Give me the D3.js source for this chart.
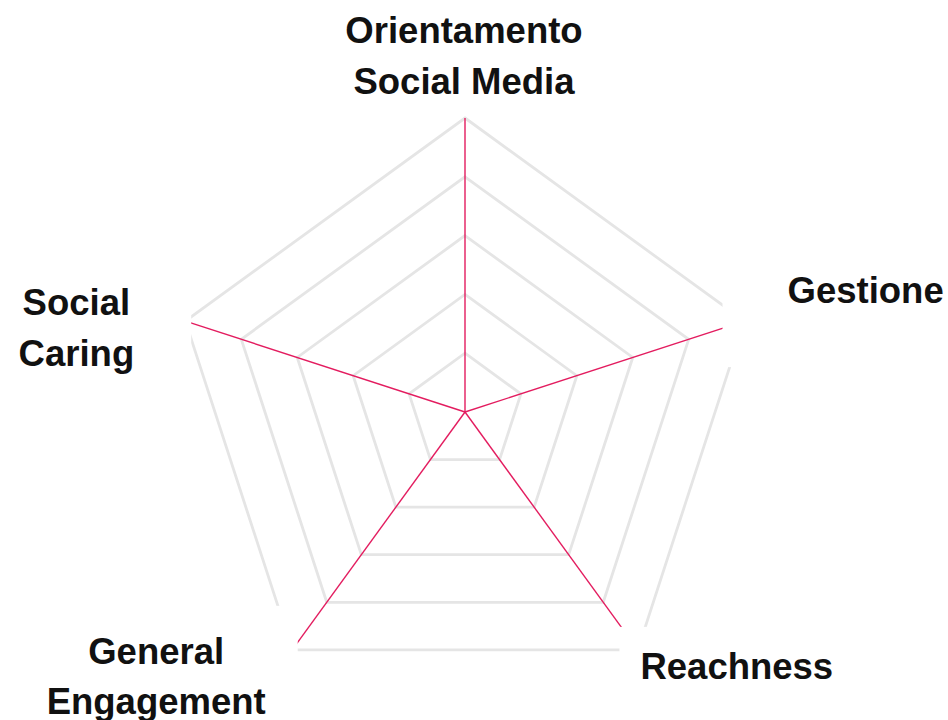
<!DOCTYPE html>
<html>
<head>
<meta charset="utf-8">
<script src="https://cdn.jsdelivr.net/npm/d3@7"></script>
<style>
  html, body { margin: 0; padding: 0; background: #fff; }
  svg { display: block; }
</style>
</head>
<body>
<svg width="948" height="720"></svg>
<script>
// DATA
const categories = ["Orientamento Social Media", "Gestione", "Reachness", "General Engagement", "Social Caring"];
const levels = [1, 2, 3, 4, 5];
const maxValue = 5;

const svg = d3.select("svg");
const cx = 465;
const cy = 412;
const radius = 294;

// label placement relative to the end of each axis, and padding of the white box behind it
const labelOffsets = [[-1, -75], [121, -18], [99, 29], [-136, 14], [-109, -6]];
const boxPads = [ // top, right, bottom, left
  [10, 10, 10, 10],
  [40, 40, 56, 65],
  [19, 40, 40, 21],
  [25, 32, 10, 40],
  [20, 57, 20, 20]
];

const r = d3.scaleLinear().domain([0, maxValue]).range([0, radius]);
const angle = d3.scaleLinear().domain([0, categories.length]).range([0, 2 * Math.PI]);

function point(i, v) {
  const a = angle(i);
  return [cx + r(v) * Math.sin(a), cy - r(v) * Math.cos(a)];
}

// GRID
svg.append("g")
  .selectAll("path")
  .data(levels)
  .join("path")
  .attr("d", lv => d3.line()(categories.map((c, i) => point(i, lv))) + "Z")
  .attr("fill", "none")
  .attr("stroke", "#e5e5e5")
  .attr("stroke-width", 2.8);

// AXES
svg.append("g")
  .selectAll("line")
  .data(categories)
  .join("line")
  .attr("x1", cx)
  .attr("y1", cy)
  .attr("x2", (d, i) => point(i, maxValue)[0])
  .attr("y2", (d, i) => point(i, maxValue)[1])
  .attr("stroke", "#e31c5f")
  .attr("stroke-width", 1.4);

// LABELS
const labels = svg.append("g")
  .selectAll("g")
  .data(categories)
  .join("g");

const texts = labels.append("text")
  .attr("text-anchor", "middle")
  .attr("font-family", "'Liberation Sans', Arial, sans-serif")
  .attr("font-weight", "bold")
  .attr("font-size", "36.5px")
  .attr("fill", "#111");

texts.each(function(d, i) {
  const t = d3.select(this);
  const [ax, ay] = point(i, maxValue);
  const x = ax + labelOffsets[i][0];
  const y = ay + labelOffsets[i][1];
  // wrap words into lines no wider than 228px
  const words = d.split(" ");
  let lines = [];
  let cur = [];
  const probe = t.append("tspan");
  words.forEach(w => {
    const test = cur.concat(w).join(" ");
    probe.text(test);
    if (cur.length && probe.node().getComputedTextLength() > 228) {
      lines.push(cur.join(" "));
      cur = [w];
    } else {
      cur.push(w);
    }
  });
  lines.push(cur.join(" "));
  probe.remove();
  lines.forEach((ln, k) => {
    t.append("tspan").attr("x", x).attr("y", y + k * 50.5).text(ln);
  });
});

// white box behind each label (covers the ends of the grid)
labels.insert("rect", "text")
  .each(function(d, i) {
    const bb = this.parentNode.querySelector("text").getBBox();
    const p = boxPads[i];
    d3.select(this)
      .attr("x", bb.x - p[3])
      .attr("y", bb.y - p[0])
      .attr("width", bb.width + p[1] + p[3])
      .attr("height", bb.height + p[0] + p[2])
      .attr("fill", "#fff");
  });
</script>
</body>
</html>
